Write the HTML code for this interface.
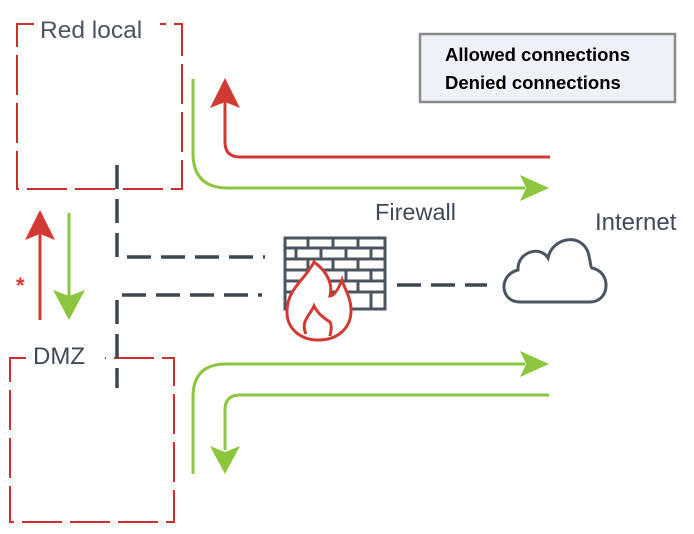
<!DOCTYPE html>
<html><head><meta charset="utf-8"><style>
html,body{margin:0;padding:0;background:#fff;overflow:hidden;width:694px;height:534px;}
svg{display:block;}
text{font-family:"Liberation Sans",sans-serif;}
</style></head><body>
<svg width="694" height="534" viewBox="0 0 694 534" xmlns="http://www.w3.org/2000/svg">
<!-- Red local box -->
<path d="M34 24 H17 V189 H182 V24 H160" fill="none" stroke="#c9302c" stroke-width="2" stroke-dasharray="40,8"/>
<text x="40" y="38" font-size="24.5" fill="#4a5560">Red local</text>
<!-- DMZ box -->
<path d="M26 358 H10 V522 H174 V358 H105" fill="none" stroke="#c9302c" stroke-width="2" stroke-dasharray="40,8"/>
<text x="33" y="364" font-size="24" fill="#3f4a55">DMZ</text>
<!-- dark dashed connectors -->
<g fill="none" stroke="#3d4750" stroke-width="3.5" stroke-dasharray="24,10">
<path d="M117 165 V257 H265"/>
<path d="M122 295 H262"/>
<path d="M117 300 V388"/>
<path d="M397 285 H487"/>
</g>
<!-- top arrows -->
<path d="M193 79 V153 Q193 188 228 188 H525" fill="none" stroke="#8cc63f" stroke-width="3"/>
<polygon points="549,188 520,175 526,188 520,201" fill="#8cc63f"/>
<path d="M550 157 H240 Q225 157 225 142 V100" fill="none" stroke="#d13a32" stroke-width="3"/>
<polygon points="225,78 210,108 225,102 240,108" fill="#d13a32"/>
<!-- bottom arrows -->
<path d="M193 474 V397 Q193 364 226 364 H525" fill="none" stroke="#8cc63f" stroke-width="3"/>
<polygon points="549,364 520,351 526,364 520,377" fill="#8cc63f"/>
<path d="M549 395 H240 Q225 395 225 410 V450" fill="none" stroke="#8cc63f" stroke-width="3"/>
<polygon points="225,474 210,446 225,452 240,446" fill="#8cc63f"/>
<!-- left vertical arrows -->
<path d="M40 320 V230" fill="none" stroke="#d13a32" stroke-width="3"/>
<polygon points="40,210 25,240 40,234 55,240" fill="#d13a32"/>
<path d="M69 213 V298" fill="none" stroke="#8cc63f" stroke-width="3"/>
<polygon points="69,320 53,290 69,296 85,290" fill="#8cc63f"/>
<text x="16" y="293" font-size="22" font-weight="bold" fill="#e8302a">*</text>
<!-- firewall bricks -->
<g stroke="#4a5560" stroke-width="3" fill="none">
<rect x="285" y="238" width="100" height="71"/>
<line x1="285" y1="248" x2="385" y2="248"/>
<line x1="285" y1="259" x2="385" y2="259"/>
<line x1="285" y1="270" x2="385" y2="270"/>
<line x1="285" y1="281" x2="385" y2="281"/>
<line x1="285" y1="292" x2="385" y2="292"/>
<line x1="308" y1="238" x2="308" y2="248"/><line x1="333" y1="238" x2="333" y2="248"/><line x1="358" y1="238" x2="358" y2="248"/>
<line x1="296" y1="248" x2="296" y2="259"/><line x1="321" y1="248" x2="321" y2="259"/><line x1="346" y1="248" x2="346" y2="259"/><line x1="371" y1="248" x2="371" y2="259"/>
<line x1="308" y1="259" x2="308" y2="270"/><line x1="333" y1="259" x2="333" y2="270"/><line x1="358" y1="259" x2="358" y2="270"/>
<line x1="346" y1="270" x2="346" y2="281"/><line x1="371" y1="270" x2="371" y2="281"/>
<line x1="358" y1="281" x2="358" y2="292"/>
<line x1="371" y1="292" x2="371" y2="309"/>
</g>
<!-- flame -->
<path d="M314 262 C305 280 288 288 287 310 C286 328 300 340 318 340 C338 340 352 328 351 308 C350 295 344 288 342 280 C338 290 334 296 330 296 C333 285 328 272 314 262 Z" fill="#fff" stroke="#d13a32" stroke-width="3"/>
<path d="M306 334 C300 322 310 315 314 306 C318 314 324 318 330 322 C333 328 330 334 330 336" fill="none" stroke="#d13a32" stroke-width="3"/>
<text x="375" y="220" font-size="23.5" fill="#3f4a55">Firewall</text>
<!-- cloud -->
<path d="M520 302 C500 302 498 275 518 270 C517 252 540 245 548 258 C552 238 580 232 588 252 C592 268 590 266 592 268 C612 272 610 302 590 302 Z" fill="none" stroke="#4a5560" stroke-width="3"/>
<text x="595" y="230" font-size="24" fill="#3f4a55">Internet</text>
<!-- legend -->
<rect x="420" y="34" width="255" height="68" fill="#eef1f8" stroke="#8a8a8a" stroke-width="2.5"/>
<text x="445" y="61" font-size="18.5" font-weight="bold" fill="#000">Allowed connections</text>
<text x="445" y="89" font-size="18.5" font-weight="bold" fill="#000">Denied connections</text>
</svg>
</body></html>
